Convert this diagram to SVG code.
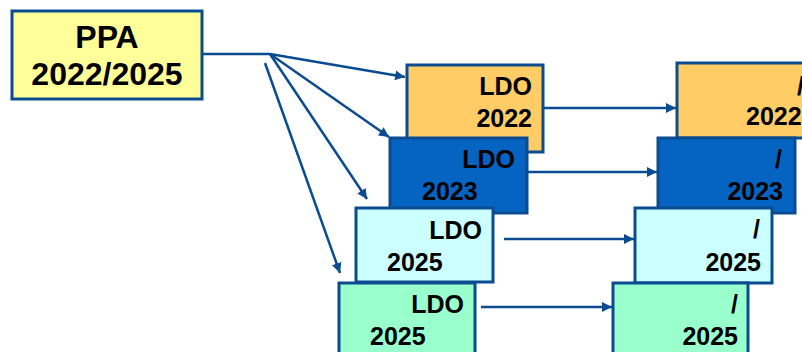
<svg xmlns="http://www.w3.org/2000/svg" width="802" height="352" viewBox="0 0 802 352">
<style>
.box{stroke:#0B4C91;stroke-width:3}
.t{font-family:"Liberation Sans",Arial,sans-serif;font-weight:bold;font-size:25px;fill:#000}
.big{font-size:32px}
.e{text-anchor:end}
.c{text-anchor:middle}
.ln{fill:none;stroke:#0B4C91;stroke-width:2.5}
</style>
<defs>
<marker id="ah" markerUnits="userSpaceOnUse" markerWidth="12" markerHeight="10" refX="10" refY="5" orient="auto">
<path d="M0,0 L10,5 L0,10 z" fill="#0B4C91"/>
</marker>
</defs>
<rect width="802" height="352" fill="#fff"/>
<g id="ppa">
<rect class="box" x="12" y="11" width="190" height="88" fill="#FFFF99"/>
<text class="t big c" x="107" y="48">PPA</text>
<text class="t big c" x="107" y="85">2022/2025</text>
</g>
<g id="ldo2022">
<rect class="box" x="407" y="65" width="136" height="87" fill="#FFCC66"/>
<text class="t e" x="532" y="95">LDO</text>
<text class="t e" x="532" y="127">2022</text>
</g>
<g id="ldo2023">
<rect class="box" x="390" y="138" width="137" height="75" fill="#0563C1"/>
<text class="t e" x="515" y="168">LDO</text>
<text class="t" x="422" y="200">2023</text>
</g>
<g id="ldo2025a">
<rect class="box" x="356" y="208" width="137" height="74" fill="#CCFFFF"/>
<text class="t e" x="482" y="239">LDO</text>
<text class="t" x="387" y="271">2025</text>
</g>
<g id="ldo2025b">
<rect class="box" x="339" y="283" width="136" height="80" fill="#99FFCC"/>
<text class="t e" x="464" y="313">LDO</text>
<text class="t" x="370" y="345">2025</text>
</g>
<g id="r2022">
<rect class="box" x="677" y="63" width="137" height="75" fill="#FFCC66"/>
<text class="t e" x="804" y="95">/</text>
<text class="t" x="746" y="125">2022</text>
</g>
<g id="r2023">
<rect class="box" x="658" y="138" width="137" height="75" fill="#0563C1"/>
<text class="t e" x="782" y="168">/</text>
<text class="t e" x="783" y="200">2023</text>
</g>
<g id="r2025a">
<rect class="box" x="635" y="208" width="137" height="75" fill="#CCFFFF"/>
<text class="t e" x="760" y="238">/</text>
<text class="t e" x="761" y="271">2025</text>
</g>
<g id="r2025b">
<rect class="box" x="613" y="283" width="135" height="80" fill="#99FFCC"/>
<text class="t e" x="738" y="313">/</text>
<text class="t e" x="738" y="345">2025</text>
</g>
<g id="connectors">
<path class="ln" d="M202,54 L270,54"/>
<path class="ln" d="M270,54 L405,77" marker-end="url(#ah)"/>
<path class="ln" d="M270,54 L389,137" marker-end="url(#ah)"/>
<path class="ln" d="M270,54 L367,199" marker-end="url(#ah)"/>
<path class="ln" d="M265,63 L340,273" marker-end="url(#ah)"/>
<path class="ln" d="M543,108 L676,108" marker-end="url(#ah)"/>
<path class="ln" d="M527,172 L657,172" marker-end="url(#ah)"/>
<path class="ln" d="M504,239 L634,239" marker-end="url(#ah)"/>
<path class="ln" d="M481,307 L612,307" marker-end="url(#ah)"/>
</g>
</svg>
